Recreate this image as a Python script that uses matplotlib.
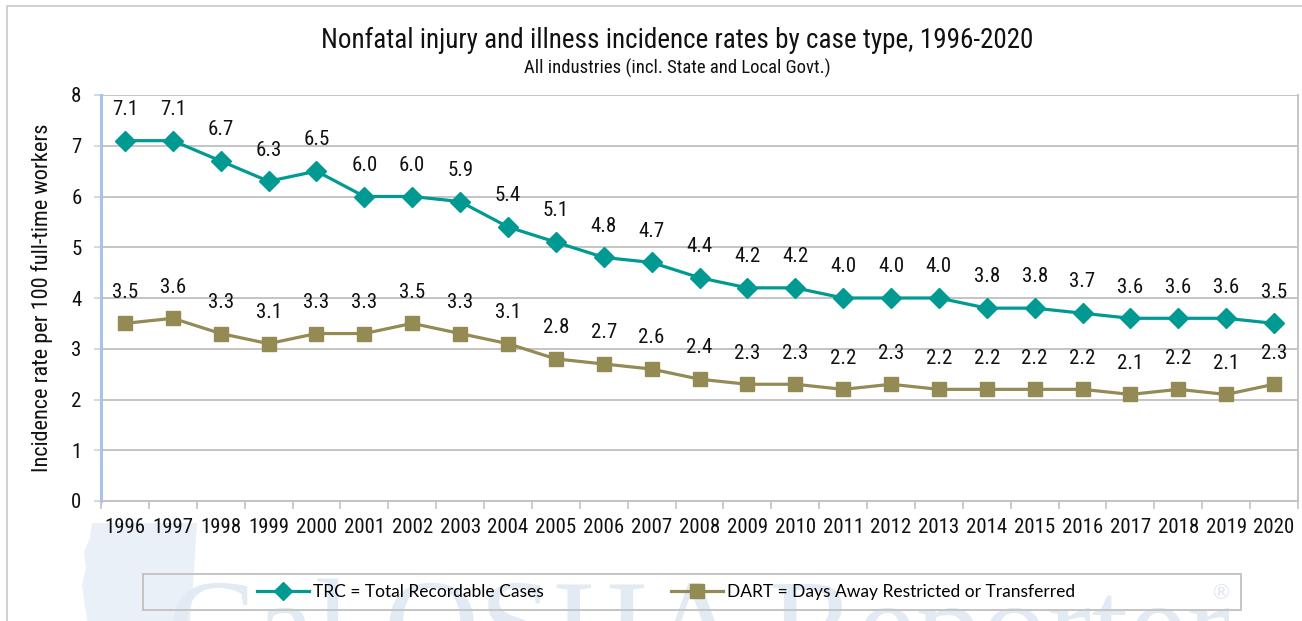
import matplotlib
matplotlib.use("Agg")
import matplotlib.pyplot as plt
from matplotlib.patches import Rectangle, Polygon
from matplotlib.lines import Line2D
from matplotlib import font_manager

years = ["1996", "1997", "1998", "1999", "2000", "2001", "2002", "2003", "2004",
         "2005", "2006", "2007", "2008", "2009", "2010", "2011", "2012", "2013",
         "2014", "2015", "2016", "2017", "2018", "2019", "2020"]
trc = [7.1, 7.1, 6.7, 6.3, 6.5, 6.0, 6.0, 5.9, 5.4, 5.1, 4.8, 4.7, 4.4, 4.2, 4.2,
       4.0, 4.0, 4.0, 3.8, 3.8, 3.7, 3.6, 3.6, 3.6, 3.5]
dart = [3.5, 3.6, 3.3, 3.1, 3.3, 3.3, 3.5, 3.3, 3.1, 2.8, 2.7, 2.6, 2.4, 2.3, 2.3,
        2.2, 2.3, 2.2, 2.2, 2.2, 2.2, 2.1, 2.2, 2.1, 2.3]
yticks = [0, 1, 2, 3, 4, 5, 6, 7, 8]

title = "Nonfatal injury and illness incidence rates by case type, 1996-2020"
subtitle = "All industries (incl. State and Local Govt.)"
ylabel = "Incidence rate per 100 full-time workers"
trc_label = "TRC = Total Recordable Cases"
dart_label = "DART = Days Away Restricted or Transferred"

available = {f.name for f in font_manager.fontManager.ttflist}
narrow = None
for cand in ["Liberation Sans Narrow", "Roboto Condensed", "Open Sans Condensed",
             "Arial Narrow"]:
    if cand in available:
        narrow = cand
        break
if narrow is None:
    NARROW = ["Liberation Sans", "DejaVu Sans"]
    k = 0.87
else:
    NARROW = [narrow, "DejaVu Sans"]
    k = 1.0

LEG = ["Lato", "DejaVu Sans"]
TEAL = "#009a93"
OLIVE = "#948a54"
GRID = "#c4c4c4"
TXT = "#111111"

W, H = 1302, 621
fig = plt.figure(figsize=(W / 100, H / 100), dpi=100)
fig.patch.set_facecolor("white")


def fx(px):
    return px / W


def fy(py):
    return 1 - py / H


# outer frame
fig.patches.append(Rectangle((fx(7), -0.05), fx(1320 - 7), fy(6) + 0.05,
                             transform=fig.transFigure, fill=False,
                             edgecolor="#c8c8c8", lw=1.2, zorder=0))

# faint map watermark
map_px = [(92, 523), (197, 523), (194, 570), (190, 625), (88, 625), (84, 600),
          (82, 585), (86, 568), (84, 552), (90, 538)]
fig.patches.append(Polygon([(fx(a), fy(b)) for a, b in map_px], closed=True,
                           transform=fig.transFigure, facecolor="#eaf0f7",
                           edgecolor="none", zorder=-3))
# text watermark
fig.text(fx(168), fy(670), "Cal OSHA Reporter", family=["Liberation Serif", "DejaVu Serif"],
         fontsize=95, color="#e2eaf3", ha="left", va="baseline", zorder=-2)
fig.text(fx(1221), fy(593), "\u00ae", family=["DejaVu Sans"], fontsize=15,
         color="#dfe6ee", ha="center", va="center", zorder=-2)

left, right, top, bottom = 101, 1298, 95, 501
ax = fig.add_axes([fx(left), fy(bottom), (right - left) / W, (bottom - top) / H])

x = list(range(len(years)))
ax.plot(x, trc, color=TEAL, lw=2.3, marker="D", ms=10, mec=TEAL, mfc=TEAL, zorder=4)
ax.plot(x, dart, color=OLIVE, lw=2.3, marker="s", ms=10.5, mec=OLIVE, mfc=OLIVE, zorder=4)

for xi, v in zip(x, trc):
    ax.annotate(f"{v:.1f}", (xi, v), xytext=(0, 22.5), textcoords="offset points",
                ha="center", va="center", fontsize=15 * k, family=NARROW, color=TXT)
for xi, v in zip(x, dart):
    ax.annotate(f"{v:.1f}", (xi, v), xytext=(0, 22.5), textcoords="offset points",
                ha="center", va="center", fontsize=15 * k, family=NARROW, color=TXT)

ax.set_xlim(-0.5, len(years) - 0.5)
ax.set_ylim(0, 8)
ax.set_yticks(yticks)
ax.set_yticklabels([str(t) for t in yticks], family=NARROW, fontsize=15 * k)
ax.set_xticks(x)
ax.set_xticklabels(years, family=NARROW, fontsize=15 * k)
ax.set_xticks([i - 0.5 for i in range(len(years) + 1)], minor=True)
ax.tick_params(axis="x", which="major", length=0, pad=12, labelcolor=TXT)
ax.tick_params(axis="x", which="minor", length=6, width=1.2, color=GRID)
ax.tick_params(axis="y", length=5, width=1.2, color="#c5d3ea", pad=9, labelcolor=TXT)

ax.grid(axis="y", color=GRID, lw=1.4, zorder=1)
ax.set_axisbelow(True)
ax.spines["left"].set_color("#a9c2ea")
ax.spines["left"].set_linewidth(2.2)
ax.spines["bottom"].set_color(GRID)
ax.spines["bottom"].set_linewidth(1.4)
ax.spines["right"].set_color(GRID)
ax.spines["right"].set_linewidth(1.4)
ax.spines["top"].set_visible(False)

ax.set_ylabel(ylabel, family=NARROW, fontsize=16 * k, labelpad=13, color=TXT)

fig.text(fx(677), fy(40), title, family=NARROW, fontsize=19.5 * k, ha="center",
         va="center", color=TXT)
fig.text(fx(677), fy(68), subtitle, family=NARROW, fontsize=13.5 * k, ha="center",
         va="center", color=TXT)

# legend box
fig.patches.append(Rectangle((fx(143), fy(610)), (1241 - 143) / W, 36 / H,
                             transform=fig.transFigure, fill=False,
                             edgecolor="#c4c4c4", lw=1.4, zorder=2))
handles = [Line2D([], [], color=TEAL, lw=2.3, marker="D", ms=9, mec=TEAL, mfc=TEAL),
           Line2D([], [], color=OLIVE, lw=2.3, marker="s", ms=10, mec=OLIVE, mfc=OLIVE)]
fig.legend(handles, [trc_label, dart_label], loc="center", ncol=2,
           bbox_to_anchor=(fx(666), fy(592)), frameon=False,
           prop={"family": LEG, "size": 12.5}, handlelength=3.0, handletextpad=0.25,
           columnspacing=7.3, borderaxespad=0, borderpad=0)

fig.savefig("out.png", dpi=100, facecolor="white")
